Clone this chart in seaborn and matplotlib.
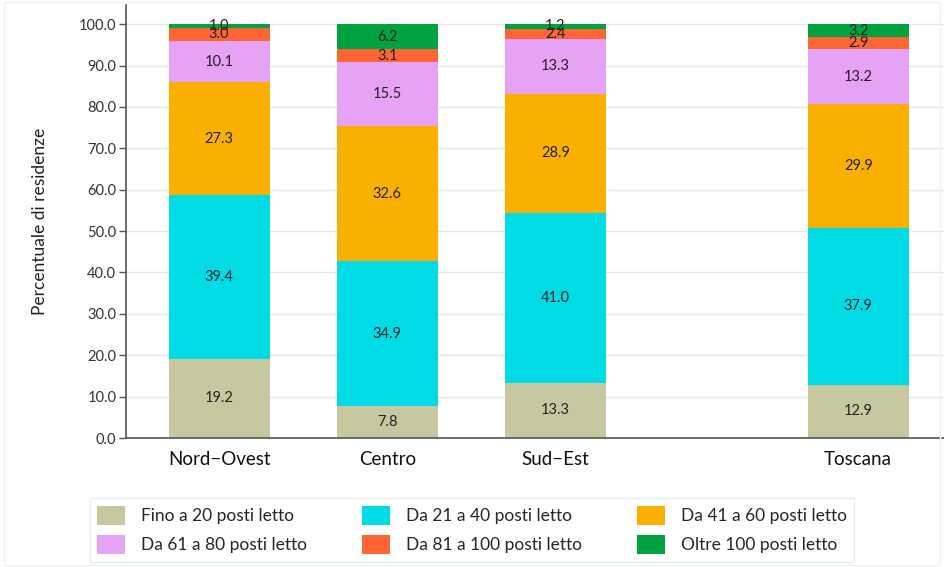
import pandas as pd
import matplotlib
matplotlib.use("Agg")
import matplotlib.pyplot as plt
from matplotlib.patches import Patch, Rectangle
import seaborn as sns

regions = ["Nord\u2212Ovest", "Centro", "Sud\u2212Est", "Toscana"]
positions = [0, 1, 2, 3.8]

classes = ["Fino a 20 posti letto", "Da 21 a 40 posti letto", "Da 41 a 60 posti letto",
           "Da 61 a 80 posti letto", "Da 81 a 100 posti letto", "Oltre 100 posti letto"]
colors = ["#c8c8a0", "#00dbe5", "#f9b000", "#e6a2f4", "#fd6535", "#00a33f"]

fino_20 = [19.2, 7.8, 13.3, 12.9]
da_21_40 = [39.4, 34.9, 41.0, 37.9]
da_41_60 = [27.3, 32.6, 28.9, 29.9]
da_61_80 = [10.1, 15.5, 13.3, 13.2]
da_81_100 = [3.0, 3.1, 2.4, 2.9]
oltre_100 = [1.0, 6.2, 1.2, 3.2]

series = [fino_20, da_21_40, da_41_60, da_61_80, da_81_100, oltre_100]

rows = []
for k, vals in enumerate(series):
    for i, v in enumerate(vals):
        rows.append([regions[i], positions[i], classes[k], v])
df = pd.DataFrame(rows, columns=["regione", "pos", "classe", "valore"])
df["top"] = df.groupby("regione")["valore"].cumsum()
df["bottom"] = df["top"] - df["valore"]

sns.set_theme(style="white")
plt.rcParams["font.family"] = ["Lato", "DejaVu Sans"]

fig = plt.figure(figsize=(9.44, 5.67), dpi=100)
ax = fig.add_axes([0.1335, 0.2275, 0.8665, 0.7635])

# stacking: draw cumulative tops, largest first
for k in reversed(range(len(classes))):
    sub = df[df["classe"] == classes[k]]
    sns.barplot(data=sub, x="pos", y="top", native_scale=True, width=0.6,
                color=colors[k], saturation=1, linewidth=0, ax=ax, zorder=2)

for _, r in df.iterrows():
    ax.text(r["pos"], r["bottom"] + r["valore"] / 2, f"{r['valore']:.1f}",
            ha="center", va="center", fontsize=10.5, color="#222222", zorder=3)

ax.set_xlim(-0.553, 4.31)
ax.set_ylim(0, 104.6)
ax.set_yticks(range(0, 101, 10))
ax.set_yticklabels([f"{v:.1f}" for v in range(0, 101, 10)], fontsize=10.5, color="#333333")
ax.set_xticks(positions)
ax.set_xticklabels(regions, fontsize=13.5, color="#111111")
ax.set_xlabel("")
ax.set_ylabel("Percentuale di residenze", fontsize=12.5, color="#222222", labelpad=22)
ax.yaxis.grid(True, color="#e6e6e6", linewidth=1, zorder=0)
ax.set_axisbelow(True)
ax.tick_params(axis="y", left=True, length=5, width=1, color="#555555", pad=2)
ax.tick_params(axis="x", bottom=False, pad=3)
for s in ["top", "right"]:
    ax.spines[s].set_visible(False)
for s in ["left", "bottom"]:
    ax.spines[s].set_color("#555555")
    ax.spines[s].set_linewidth(1.2)

handles = [Patch(facecolor=c, edgecolor="none") for c in colors]
order = [0, 3, 1, 4, 2, 5]
leg = fig.legend([handles[i] for i in order], [classes[i] for i in order],
                 loc="center", bbox_to_anchor=(0.5, 0.0655), ncol=3, fontsize=12.5,
                 frameon=True, fancybox=False, edgecolor="#e4ecec",
                 handlelength=1.6, handleheight=1.3, columnspacing=3.2,
                 handletextpad=0.9, labelspacing=0.6, borderpad=0.45)
leg.get_frame().set_linewidth(1)

fig.patches.append(Rectangle((0.004, 0.004), 0.992, 0.992, transform=fig.transFigure,
                             fill=False, edgecolor="#eef2f2", linewidth=1))

fig.savefig("out.png", dpi=100)
